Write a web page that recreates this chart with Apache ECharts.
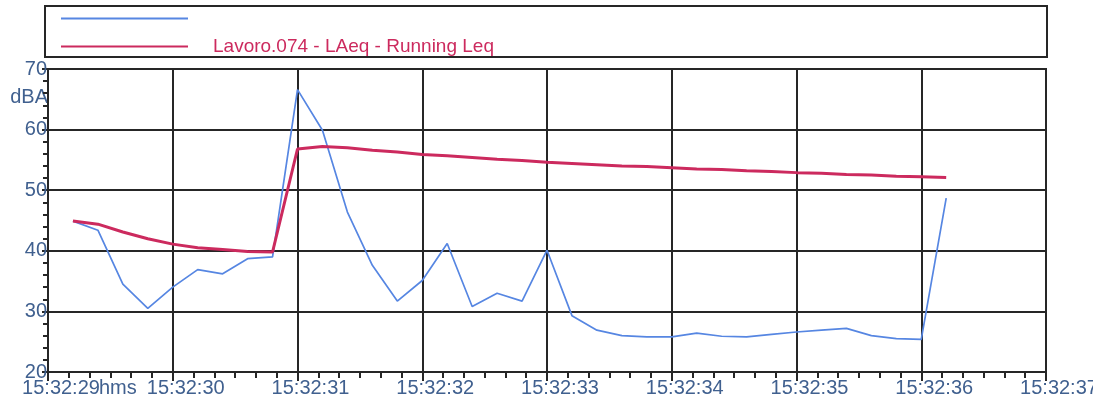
<!DOCTYPE html>
<html>
<head>
<meta charset="utf-8">
<script src="https://cdn.jsdelivr.net/npm/echarts@6/dist/echarts.min.js"></script>
<style>
  html, body { margin: 0; padding: 0; background: #fff; }
  #chart { width: 1093px; height: 407px; }
</style>
</head>
<body>
<div id="chart"></div>
<script>
// Sample times, seconds past 15:32 (0.2 s steps)
const seconds = [
  29.2, 29.4, 29.6, 29.8, 30.0, 30.2, 30.4, 30.6, 30.8,
  31.0, 31.2, 31.4, 31.6, 31.8, 32.0, 32.2, 32.4, 32.6, 32.8,
  33.0, 33.2, 33.4, 33.6, 33.8, 34.0, 34.2, 34.4, 34.6, 34.8,
  35.0, 35.2, 35.4, 35.6, 35.8, 36.0, 36.2
];

// Short-interval level, dBA
const levelValues = [
  44.9, 43.4, 34.5, 30.5, 34.0, 36.9, 36.2, 38.7, 39.0,
  66.6, 59.9, 46.4, 37.6, 31.7, 35.1, 41.2, 30.8, 33.0, 31.7,
  40.1, 29.3, 26.9, 26.0, 25.8, 25.8, 26.4, 25.9, 25.8, 26.2,
  26.6, 26.9, 27.2, 26.0, 25.5, 25.4, 48.7
];

// Running Leq, dBA
const runningLeqValues = [
  44.9, 44.4, 43.1, 42.0, 41.1, 40.5, 40.2, 39.9, 39.8,
  56.8, 57.2, 57.0, 56.6, 56.3, 55.9, 55.7, 55.4, 55.1, 54.9,
  54.6, 54.4, 54.2, 54.0, 53.9, 53.7, 53.5, 53.4, 53.2, 53.1,
  52.9, 52.8, 52.6, 52.5, 52.3, 52.2, 52.1
];

const seriesNames = [' ', 'Lavoro.074 - LAeq - Running Leq'];
const timePrefix = '15:32:';
const xUnit = 'hms';
const yUnit = 'dBA';

const dark = '#262626';
const labelColor = '#40608f';
const blue = '#5686e2';
const red = '#cc2a5e';
const font = '"Liberation Sans", Arial, sans-serif';

const pair = (vals) => seconds.map((s, i) => [s, vals[i]]);

const chart = echarts.init(document.getElementById('chart'), null, { renderer: 'canvas' });

chart.setOption({
  backgroundColor: '#ffffff',
  animation: false,
  graphic: [
    {
      // legend frame
      type: 'rect',
      shape: { x: 45, y: 6, width: 1002, height: 51 },
      style: { fill: 'none', stroke: dark, lineWidth: 2 },
      z: 10
    },
    {
      // time unit under the first tick label
      type: 'text',
      left: 99,
      top: 378,
      style: { text: xUnit, fill: labelColor, font: '20px ' + font },
      z: 10
    }
  ],
  legend: {
    orient: 'vertical',
    left: 60,
    top: 9,
    itemWidth: 127,
    itemHeight: 14,
    itemGap: 9,
    padding: 0,
    data: seriesNames,
    itemStyle: { opacity: 0 },
    textStyle: {
      fontFamily: font,
      fontSize: 19,
      color: red,
      padding: [0, 0, 0, 20]
    }
  },
  grid: {
    left: 48,
    right: 47,
    top: 69,
    bottom: 35,
    containLabel: false,
    outerBoundsMode: 'none',
    show: true,
    borderColor: dark,
    borderWidth: 2,
    backgroundColor: '#ffffff'
  },
  xAxis: {
    type: 'value',
    min: 29,
    max: 37,
    interval: 1,
    axisLine: { show: true, lineStyle: { color: dark, width: 2 } },
    axisTick: { show: true, length: 9, lineStyle: { color: dark, width: 2 } },
    minorTick: { show: true, splitNumber: 6, length: 6, lineStyle: { color: dark, width: 2 } },
    splitLine: { show: true, lineStyle: { color: dark, width: 2 } },
    axisLabel: {
      fontFamily: font, fontSize: 20, color: labelColor,
      margin: 6,
      padding: [0, 0, 0, 26],
      showMaxLabel: true,
      hideOverlap: false,
      formatter: (v) => timePrefix + String(Math.round(v)).padStart(2, '0')
    }
  },
  yAxis: {
    type: 'value',
    min: 20,
    max: 70,
    interval: 10,
    name: yUnit,
    nameLocation: 'end',
    nameGap: -28,
    nameTextStyle: {
      fontFamily: font, fontSize: 20, color: labelColor,
      align: 'right', verticalAlign: 'middle'
    },
    axisLine: { show: true, lineStyle: { color: dark, width: 2 } },
    axisTick: { show: true, length: 6, lineStyle: { color: dark, width: 2 } },
    minorTick: { show: true, splitNumber: 5, length: 5, lineStyle: { color: dark, width: 2 } },
    splitLine: { show: true, lineStyle: { color: dark, width: 2 } },
    axisLabel: {
      fontFamily: font, fontSize: 20, color: labelColor,
      margin: 1
    }
  },
  series: [
    {
      name: seriesNames[0],
      type: 'line',
      data: pair(levelValues),
      symbol: 'none',
      lineStyle: { color: blue, width: 1.7 },
      itemStyle: { color: blue },
      z: 3
    },
    {
      name: seriesNames[1],
      type: 'line',
      data: pair(runningLeqValues),
      symbol: 'none',
      lineStyle: { color: red, width: 3 },
      itemStyle: { color: red },
      z: 4
    }
  ]
});
</script>
</body>
</html>
